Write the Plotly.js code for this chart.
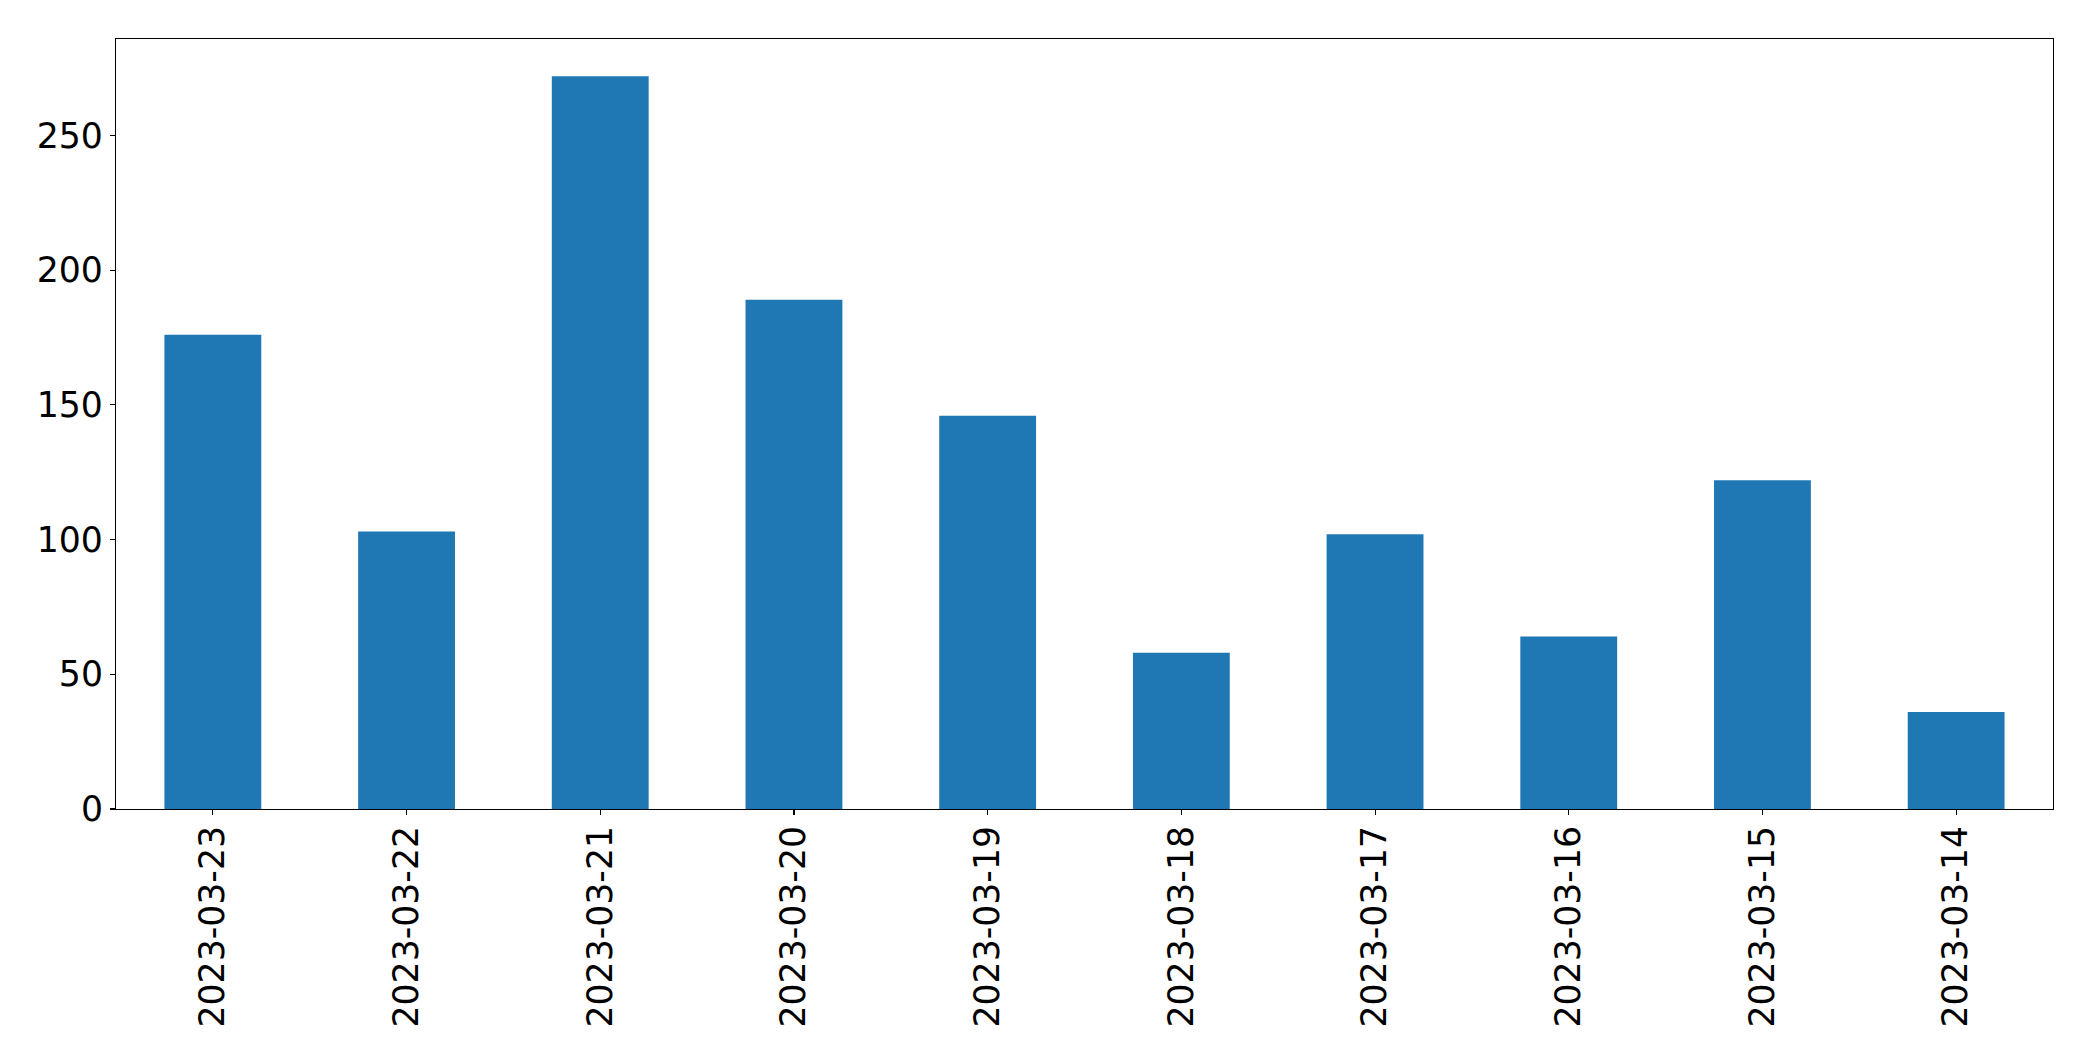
<!DOCTYPE html>
<html>
<head>
<meta charset="utf-8">
<script src="https://cdn.plot.ly/plotly-3.0.1.min.js"></script>
<style>html,body{margin:0;padding:0;background:#fff;}#chart{width:2093px;height:1061px;}</style>
</head>
<body>
<div id="chart"></div>
<script>
const dates = ["2023-03-23","2023-03-22","2023-03-21","2023-03-20","2023-03-19","2023-03-18","2023-03-17","2023-03-16","2023-03-15","2023-03-14"];
const counts = [176, 103, 272, 189, 146, 58, 102, 64, 122, 36];
const yTicks = [0, 50, 100, 150, 200, 250];

const fontSpec = {family: "DejaVu Sans", size: 34.7, color: "#000"};

Plotly.newPlot("chart", [{
  type: "bar",
  x: dates,
  y: counts,
  width: 0.5,
  marker: {color: "#1f77b4", line: {width: 0}},
  hoverinfo: "x+y"
}], {
  width: 2093, height: 1061,
  margin: {l: 116, r: 40, t: 39, b: 252, pad: 0},
  paper_bgcolor: "#fff", plot_bgcolor: "#fff",
  showlegend: false,
  font: fontSpec,
  xaxis: {
    type: "category",
    range: [-0.5, 9.5],
    tickangle: -90,
    showline: true, mirror: true, linecolor: "#000", linewidth: 1.1,
    ticks: "outside", ticklen: 5, tickwidth: 1.1, tickcolor: "#000",
    showgrid: false, zeroline: false,
    tickfont: fontSpec,
    ticklabelstandoff: -3
  },
  yaxis: {
    range: [0, 285.8],
    tickvals: yTicks,
    ticktext: yTicks.map(String),
    showline: true, mirror: true, linecolor: "#000", linewidth: 1.1,
    ticks: "outside", ticklen: 5, tickwidth: 1.1, tickcolor: "#000",
    showgrid: false, zeroline: false,
    tickfont: fontSpec
  }
}, {displayModeBar: false, staticPlot: true});
</script>
</body>
</html>
